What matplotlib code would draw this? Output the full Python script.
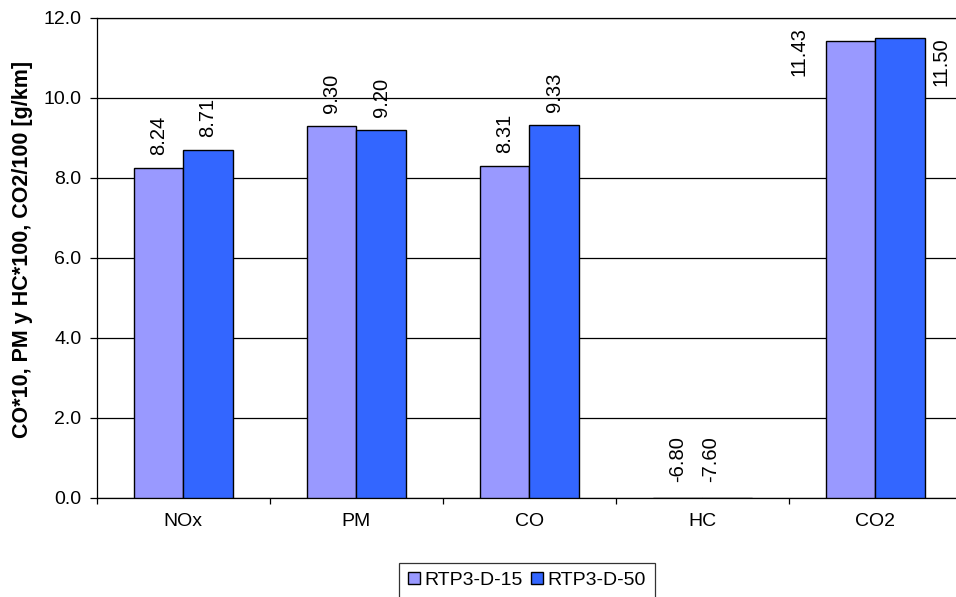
import matplotlib
matplotlib.use("Agg")
import matplotlib.pyplot as plt
import numpy as np

# Emission data (scaled units)
categories = ["NOx", "PM", "CO", "HC", "CO2"]
series_names = ["RTP3-D-15", "RTP3-D-50"]
rtp3_d_15 = [8.24, 9.30, 8.31, -6.80, 11.43]
rtp3_d_50 = [8.71, 9.20, 9.33, -7.60, 11.50]
y_ticks = [0.0, 2.0, 4.0, 6.0, 8.0, 10.0, 12.0]

colors = ["#9999FF", "#3366FF"]

plt.rcParams["font.family"] = ["Liberation Sans", "DejaVu Sans"]

fig = plt.figure(figsize=(9.56, 5.97), dpi=100)
ax = fig.add_axes([96.7 / 956, 1 - 498 / 597, (962 - 96.7) / 956, 480 / 597])

x = np.arange(len(categories))
w = 0.286
b1 = ax.bar(x - w / 2, rtp3_d_15, w, color=colors[0], edgecolor="black",
            linewidth=1.0, label=series_names[0], zorder=3)
b2 = ax.bar(x + w / 2, rtp3_d_50, w, color=colors[1], edgecolor="black",
            linewidth=1.0, label=series_names[1], zorder=3)

ax.set_xlim(-0.5, len(categories) - 0.5)
ax.set_ylim(0, 12)
ax.set_yticks(y_ticks)
ax.set_yticklabels([f"{v:.1f}" for v in y_ticks], fontsize=14)
ax.yaxis.grid(True, color="black", linewidth=0.9, zorder=0)
ax.set_axisbelow(True)

ax.set_xticks(x)
ax.set_xticklabels(categories, fontsize=14)
ax.set_xticks(np.arange(-0.5, len(categories) + 0.5, 1), minor=True)
ax.tick_params(axis="x", which="major", length=0, pad=11)
ax.tick_params(axis="x", which="minor", length=4, width=0.9, direction="out")
ax.tick_params(axis="y", length=5, width=0.9, direction="out", pad=6)

ax.spines["right"].set_visible(False)
for s in ["top", "left", "bottom"]:
    ax.spines[s].set_linewidth(0.9)

ax.set_ylabel("CO*10, PM y HC*100, CO2/100 [g/km]", fontsize=15.5,
              fontweight="bold")
ax.yaxis.set_label_coords(-0.074, 0.517)

# value labels
def label(bar, value, dx=0, dy=13, va="bottom", base=None):
    xc = bar.get_x() + bar.get_width() / 2
    yv = value if base is None else base
    ax.annotate(f"{value:.2f}", xy=(xc, yv), xytext=(dx, dy),
                textcoords="offset pixels", rotation=90, ha="center", va=va,
                fontsize=14.5, zorder=5, annotation_clip=False)

for i, (r1, r2) in enumerate(zip(b1, b2)):
    v1, v2 = rtp3_d_15[i], rtp3_d_50[i]
    if categories[i] == "HC":
        label(r1, v1, dx=0, dy=16, base=0)
        label(r2, v2, dx=-17, dy=16, base=0)
    elif categories[i] == "CO2":
        label(r1, v1, dx=-52, dy=-11, va="center")
        label(r2, v2, dx=41, dy=-24, va="center")
    else:
        label(r1, v1)
        label(r2, v2)

leg = fig.legend(handles=[b1, b2], labels=series_names, loc="upper center",
                 bbox_to_anchor=(527 / 956, 1 - 563 / 597), ncol=2,
                 fontsize=14, frameon=True, fancybox=False, handlelength=0.6,
                 handleheight=0.6, handletextpad=0.25, columnspacing=0.4,
                 borderpad=0.45, borderaxespad=0)
leg.get_frame().set_edgecolor("black")
leg.get_frame().set_linewidth(0.9)

fig.savefig("out.png", dpi=100)
